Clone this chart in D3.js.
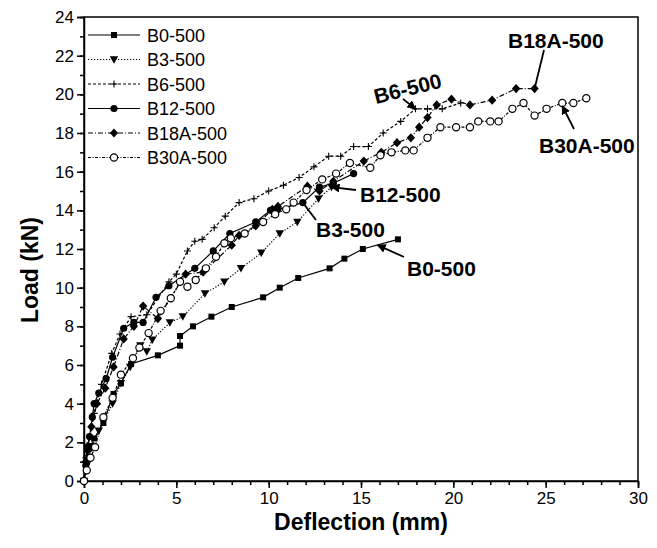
<!DOCTYPE html>
<html>
<head>
<meta charset="utf-8">
<script src="https://cdn.jsdelivr.net/npm/d3@7"></script>
<style>
  body { margin: 0; background: #fff; }
  svg text { font-family: "Liberation Sans", Arial, sans-serif; }
</style>
</head>
<body>
<svg id="chart" width="657" height="548"></svg>
<script>
// load-deflection data [deflection mm, load kN]
const b0 = [[0,0],[0.1,0.9],[0.3,1.7],[0.55,2.2],[1.05,3.0],[1.6,4.5],[2.0,5.05],[2.55,6.05],[4.0,6.5],[5.2,7.0],[5.2,7.5],[5.9,8.0],[6.9,8.5],[8.0,9.0],[9.7,9.5],[10.6,10.0],[11.6,10.5],[13.3,11.0],[14.1,11.5],[15.1,12.0],[17.0,12.5]];
const b3 = [[0,0],[0.15,0.8],[0.45,1.8],[0.8,2.6],[1.05,3.05],[1.55,4.0],[2.0,5.05],[2.5,5.9],[3.05,7.0],[3.4,6.7],[3.7,7.3],[4.65,8.2],[5.35,8.5],[6.55,9.7],[7.6,10.3],[8.5,11.0],[9.6,11.8],[10.6,12.8],[11.55,13.4],[12.7,14.6],[13.4,15.2]];
const b6 = [[0,0],[0.1,1.2],[0.3,2.3],[0.55,3.5],[0.95,5.0],[1.5,6.6],[1.95,7.6],[2.55,8.5],[3.4,8.6],[4.6,10.3],[5.0,10.7],[5.6,11.9],[6.0,12.4],[6.4,12.5],[7.05,13.1],[7.65,13.7],[8.4,14.4],[9.2,14.6],[10.0,15.0],[10.8,15.3],[11.65,15.7],[12.45,16.25],[13.25,16.8],[13.9,16.8],[14.6,17.3],[15.4,17.3],[16.2,18.0],[17.15,18.6],[17.95,19.25],[18.6,19.25],[19.4,19.25],[20.4,19.55]];
const b12 = [[0,0],[0.1,0.8],[0.2,1.6],[0.3,2.3],[0.45,3.3],[0.55,4.0],[0.8,4.55],[1.2,5.3],[1.55,6.4],[2.15,7.9],[2.7,8.2],[3.2,8.2],[3.9,9.5],[4.6,10.1],[6.0,11.0],[7.0,11.9],[7.9,12.8],[9.3,13.4],[10.1,14.0],[10.5,14.05],[11.85,14.4],[12.75,15.2],[13.5,15.4],[14.6,15.9]];
const b18a = [[0,0],[0.1,1.0],[0.2,1.8],[0.4,2.8],[0.7,4.0],[1.15,4.8],[1.6,5.9],[2.15,7.35],[2.7,8.0],[3.2,9.05],[4.0,8.4],[5.5,10.7],[6.45,10.8],[8.0,12.2],[8.4,12.7],[9.3,13.2],[10.2,14.05],[10.5,14.2],[12.1,15.25],[12.75,15.0],[13.5,15.5],[15.15,16.55],[16.1,17.0],[16.95,17.5],[17.7,17.75],[18.15,18.3],[18.6,18.8],[19.1,19.45],[19.9,19.75],[20.9,19.45],[22.1,19.7],[23.4,20.3],[24.4,20.3]];
const b30a = [[0,0],[0.15,0.55],[0.35,1.2],[0.6,1.75],[1.05,3.3],[1.55,4.3],[2.0,5.5],[2.65,6.35],[3.0,6.9],[3.5,7.65],[4.15,8.8],[4.7,9.45],[5.2,10.3],[5.6,10.05],[6.05,10.4],[6.6,11.0],[7.15,11.6],[7.6,12.3],[7.95,12.55],[8.7,12.8],[9.7,13.4],[10.35,13.8],[10.95,14.05],[11.35,14.4],[12.05,15.05],[12.9,15.6],[13.65,15.9],[14.4,16.45],[15.5,16.2],[16.05,16.85],[16.65,17.0],[17.4,17.1],[17.85,17.1],[18.6,17.75],[19.3,18.3],[20.15,18.3],[20.9,18.3],[21.35,18.6],[22.0,18.6],[22.45,18.6],[23.2,19.25],[23.8,19.55],[24.4,18.9],[25.05,19.25],[25.9,19.55],[26.5,19.55],[27.2,19.8]];

const seriesNames = ['B0-500', 'B3-500', 'B6-500', 'B12-500', 'B18A-500', 'B30A-500'];
const seriesData = [b0, b3, b6, b12, b18a, b30a];
const xTicks = [0, 5, 10, 15, 20, 25, 30];
const yTicks = [0, 2, 4, 6, 8, 10, 12, 14, 16, 18, 20, 22, 24];

// callouts: label, text position, leader line from/to (data units for the tip)
const callouts = [
	{ name: 'B18A-500', tx: 508, ty: 48, from: [544, 50], to: [24.4, 20.3], arrow: false },
	{ name: 'B6-500', tx: 376, ty: 104, from: [403, 99], to: [17.95, 19.25], arrow: true, rot: -14 },
	{ name: 'B12-500', tx: 360, ty: 202, from: [356, 190], to: [13.4, 15.2], arrow: true },
	{ name: 'B3-500', tx: 316, ty: 237, from: [316, 220], to: [11.85, 14.4], arrow: false },
	{ name: 'B0-500', tx: 407, ty: 276, from: [404, 257], to: [15.9, 12.2], arrow: true },
	{ name: 'B30A-500', tx: 539, ty: 153, from: [574, 129], to: [25.9, 19.4], arrow: true }
];

const styles = {
	'B0-500': { dash: null, marker: 'square' },
	'B3-500': { dash: '1.2,1.8', marker: 'tri' },
	'B6-500': { dash: '3,2', marker: 'cross' },
	'B12-500': { dash: null, marker: 'circle' },
	'B18A-500': { dash: '5,2,1,2', marker: 'diamond' },
	'B30A-500': { dash: '3,1.5,1,1.5', marker: 'open' }
};

const svg = d3.select('#chart');
const margin = { left: 84, right: 19, top: 17, bottom: 67 };
const width = 657 - margin.left - margin.right;
const height = 548 - margin.top - margin.bottom;

const x = d3.scaleLinear().domain([0, 30]).range([0, width]);
const y = d3.scaleLinear().domain([0, 24]).range([height, 0]);

const g = svg.append('g').attr('transform', `translate(${margin.left},${margin.top})`);

// frame
g.append('rect')
	.attr('width', width).attr('height', height)
	.attr('fill', 'none').attr('stroke', '#000').attr('stroke-width', 1.5);

// minor ticks
g.append('g')
	.attr('transform', `translate(0,${height})`)
	.call(d3.axisBottom(x).tickValues(d3.range(0, 31, 1)).tickSize(4).tickFormat(''))
	.call(a => a.select('.domain').remove());
g.append('g')
	.call(d3.axisLeft(y).tickValues(d3.range(0, 25, 1)).tickSize(4).tickFormat(''))
	.call(a => a.select('.domain').remove());

const xAxis = g.append('g')
	.attr('transform', `translate(0,${height})`)
	.call(d3.axisBottom(x).tickValues(xTicks).tickSize(7).tickPadding(4));
const yAxis = g.append('g')
	.call(d3.axisLeft(y).tickValues(yTicks).tickSize(7).tickPadding(3));

[xAxis, yAxis].forEach(a => {
	a.select('.domain').attr('stroke-width', 1.5);
	a.selectAll('text').attr('font-size', 17).attr('fill', '#000')
		.style('font-family', '"Liberation Sans", Arial, sans-serif');
});
g.selectAll('.tick line').attr('stroke-width', 1.5);

// axis titles
svg.append('text')
	.attr('x', margin.left + width / 2).attr('y', 530)
	.attr('text-anchor', 'middle').attr('font-size', 23).attr('font-weight', 'bold')
	.text('Deflection (mm)');
svg.append('text')
	.attr('transform', 'translate(38,270) rotate(-90)')
	.attr('text-anchor', 'middle').attr('font-size', 23).attr('font-weight', 'bold')
	.text('Load (kN)');

// markers
const drawMarker = (sel, type) => {
	if (type === 'square') {
		sel.append('rect').attr('x', -3).attr('y', -3).attr('width', 6).attr('height', 6).attr('fill', '#000');
	} else if (type === 'tri') {
		sel.append('path').attr('d', 'M-4.2,-3.3L4.2,-3.3L0,4.2Z').attr('fill', '#000');
	} else if (type === 'cross') {
		sel.append('path').attr('d', 'M-3.5,0H3.5M0,-3.5V3.5').attr('stroke', '#000').attr('stroke-width', 1.1);
	} else if (type === 'circle') {
		sel.append('circle').attr('r', 3.6).attr('fill', '#000');
	} else if (type === 'diamond') {
		sel.append('path').attr('d', 'M0,-4.6L4.2,0L0,4.6L-4.2,0Z').attr('fill', '#000');
	} else if (type === 'open') {
		sel.append('circle').attr('r', 3.6).attr('fill', '#fff').attr('stroke', '#000').attr('stroke-width', 1.2);
	}
};

const line = d3.line().x(d => x(d[0])).y(d => y(d[1]));

seriesNames.forEach((name, i) => {
	const st = styles[name];
	g.append('path')
		.datum(seriesData[i])
		.attr('d', line)
		.attr('fill', 'none')
		.attr('stroke', '#000')
		.attr('stroke-width', 1.2)
		.attr('stroke-dasharray', st.dash);
	g.append('g').selectAll('g')
		.data(seriesData[i])
		.enter()
		.append('g')
		.attr('transform', d => `translate(${x(d[0])},${y(d[1])})`)
		.each(function () { drawMarker(d3.select(this), st.marker); });
});

// legend
const legend = svg.append('g').attr('transform', 'translate(88,35)');
seriesNames.forEach((name, i) => {
	const st = styles[name];
	const row = legend.append('g').attr('transform', `translate(0,${i * 24.5})`);
	row.append('line').attr('x1', 0).attr('x2', 52)
		.attr('stroke', '#000').attr('stroke-width', 1.1).attr('stroke-dasharray', st.dash);
	drawMarker(row.append('g').attr('transform', 'translate(26,0)'), st.marker);
	row.append('text').attr('x', 59).attr('y', 6.5).attr('font-size', 18).text(name);
});

// callouts
svg.append('defs').append('marker')
	.attr('id', 'arr').attr('viewBox', '0 0 10 10').attr('refX', 9).attr('refY', 5)
	.attr('markerWidth', 5).attr('markerHeight', 5).attr('orient', 'auto')
	.append('path').attr('d', 'M0,0L10,5L0,10Z').attr('fill', '#000');

callouts.forEach(c => {
	const tipX = margin.left + x(c.to[0]);
	const tipY = margin.top + y(c.to[1]);
	svg.append('line')
		.attr('x1', c.from[0]).attr('y1', c.from[1])
		.attr('x2', tipX).attr('y2', tipY)
		.attr('stroke', '#000').attr('stroke-width', 1.8)
		.attr('marker-end', c.arrow ? 'url(#arr)' : null);
	const t = svg.append('text')
		.attr('x', c.tx).attr('y', c.ty)
		.attr('font-size', 21).attr('font-weight', 'bold')
		.text(c.name);
	if (c.rot) t.attr('transform', `rotate(${c.rot},${c.tx},${c.ty})`);
});
</script>
</body>
</html>
